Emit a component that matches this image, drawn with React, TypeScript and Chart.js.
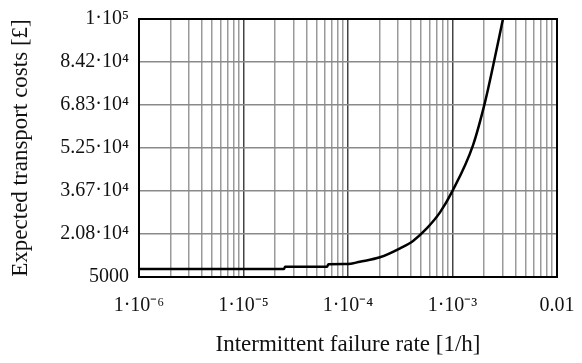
import React, { useEffect, useRef } from "react";
import { Chart, registerables } from "chart.js";

Chart.register(...registerables);

const xDecades = [1e-6, 1e-5, 1e-4, 1e-3, 1e-2];
const xDecadeLabels = ["1·10⁻⁶", "1·10⁻⁵", "1·10⁻⁴", "1·10⁻³", "0.01"];
const xMinorMultipliers = [2, 3, 4, 5, 6, 7, 8, 9];

const yTickValues = [5000, 20833, 36667, 52500, 68333, 84167, 100000];
const yTickLabels = ["5000", "2.08·10⁴", "3.67·10⁴", "5.25·10⁴", "6.83·10⁴", "8.42·10⁴", "1·10⁵"];

const failureRate = [1e-6, 1e-5, 2.44e-5, 2.5e-5, 6.3e-5, 6.5e-5, 9.8e-5, 1.3e-4, 2.02e-4, 3.15e-4, 4.19e-4, 5.7e-4, 7.59e-4, 1e-3, 1.57e-3, 2.05e-3, 2.44e-3, 3.04e-3];
const transportCost = [7950, 7950, 7950, 8790, 8790, 9680, 9750, 10630, 12250, 15570, 18300, 23000, 28800, 36700, 53500, 69500, 82500, 100000];

const FONT = "'Liberation Serif', 'Times New Roman', serif";

const isDecade = (v: number) => Math.abs(Math.log10(v) - Math.round(Math.log10(v))) < 1e-6;

export default function App() {
  const ref = useRef<HTMLCanvasElement | null>(null);
  useEffect(() => {
    if (!ref.current) return;
    const borderPlugin = {
      id: "frame",
      afterDraw(chart: any) {
        const { ctx, chartArea } = chart;
        ctx.save();
        ctx.strokeStyle = "#000";
        ctx.lineWidth = 2;
        ctx.strokeRect(chartArea.left, chartArea.top, chartArea.right - chartArea.left, chartArea.bottom - chartArea.top);
        ctx.restore();
      },
    };
    const xGridValues: number[] = [];
    xDecades.forEach((d, i) => {
      xGridValues.push(d);
      if (i < xDecades.length - 1) xMinorMultipliers.forEach((m) => xGridValues.push(m * d));
    });
    const chart = new Chart(ref.current, {
      type: "line",
      data: {
        datasets: [
          {
            data: failureRate.map((x, i) => ({ x, y: transportCost[i] })),
            borderColor: "#000",
            borderWidth: 2.5,
            pointRadius: 0,
            cubicInterpolationMode: "monotone",
            fill: false,
          },
        ],
      },
      options: {
        animation: false,
        responsive: false,
        layout: { padding: { top: 19, right: 25, left: 0, bottom: 0 } },
        plugins: { legend: { display: false }, tooltip: { enabled: false } },
        scales: {
          x: {
            type: "logarithmic",
            min: 1e-6,
            max: 1e-2,
            afterBuildTicks: (scale: any) => {
              scale.ticks = xGridValues.map((v) => ({ value: v }));
            },
            afterFit: (scale: any) => {
              scale.height = 86;
              scale.paddingLeft = 0;
              scale.paddingRight = 0;
            },
            border: { display: false },
            grid: {
              drawTicks: false,
              color: (ctx: any) => (ctx.tick && isDecade(ctx.tick.value) ? "#444" : "#9a9a9a"),
              lineWidth: 1.5,
            },
            ticks: {
              autoSkip: false,
              maxRotation: 0,
              padding: 17,
              color: "#111",
              font: { family: FONT, size: 20 },
              callback: (v: any) => {
                const idx = xDecades.findIndex((d) => Math.abs(d - Number(v)) / d < 1e-6);
                return idx >= 0 ? xDecadeLabels[idx] : "";
              },
            },
            title: {
              display: true,
              text: "Intermittent failure rate [1/h]",
              color: "#111",
              font: { family: FONT, size: 23 },
              padding: { top: 0, bottom: 4 },
            },
          },
          y: {
            type: "linear",
            min: 5000,
            max: 100000,
            afterBuildTicks: (scale: any) => {
              scale.ticks = yTickValues.map((v) => ({ value: v }));
            },
            afterFit: (scale: any) => {
              scale.width = 139;
              scale.paddingTop = 0;
              scale.paddingBottom = 0;
            },
            border: { display: false },
            grid: { drawTicks: false, color: "#8a8a8a", lineWidth: 1.5 },
            ticks: {
              padding: 10,
              color: "#111",
              font: { family: FONT, size: 20 },
              callback: (v: any) => {
                const idx = yTickValues.findIndex((t) => Math.abs(t - Number(v)) < 1);
                return idx >= 0 ? yTickLabels[idx] : "";
              },
            },
            title: {
              display: true,
              text: "Expected transport costs [£]",
              color: "#111",
              font: { family: FONT, size: 23 },
              padding: { top: 7, bottom: 0 },
            },
          },
        },
      },
      plugins: [borderPlugin],
    } as any);
    return () => chart.destroy();
  }, []);
  return (
    <div style={{ position: "fixed", left: 0, top: 0, width: 582, height: 363, background: "#fff" }}>
      <canvas ref={ref} width={582} height={363} />
    </div>
  );
}
